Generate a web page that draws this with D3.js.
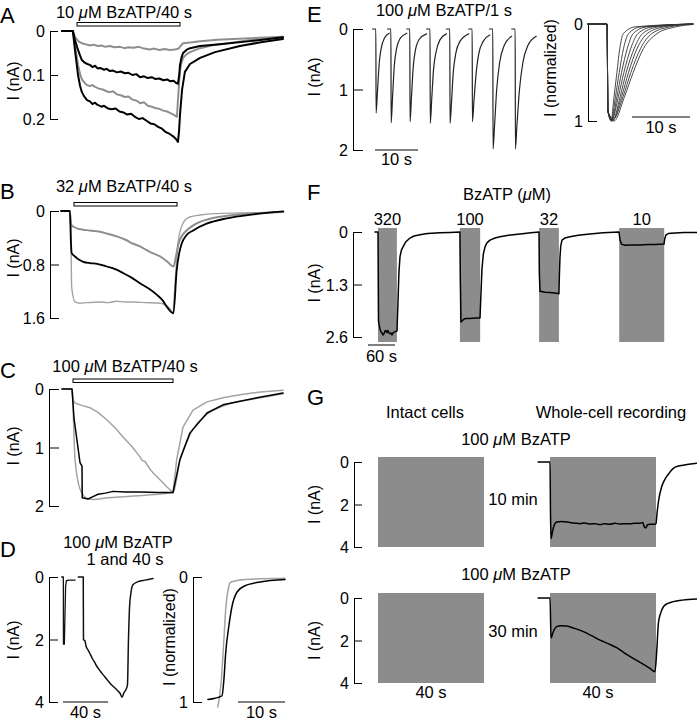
<!DOCTYPE html>
<html>
<head>
<meta charset="utf-8">
<script src="https://cdn.jsdelivr.net/npm/d3@7"></script>
<style>
html,body{margin:0;padding:0;background:#fff;}
svg{display:block;font-family:"Liberation Sans",Arial,sans-serif;}
</style>
</head>
<body>
<svg id="fig" width="697" height="720"></svg>
<script>
// ---------------- DATA ----------------
// Panel A: 10 uM BzATP / 40 s  (time s, current nA)
const aStim = [0, 40];
const aTicks = [0, 0.1, 0.2];
const aTickLabels = ["0", "0.1", "0.2"];
const aGray1 = [[-5.8,0],[-1.6,0],[-0.8,0.014],[0.4,0.022],[1.2,0.026],[2.5,0.029],[3.9,0.031],[5,0.033],[6.5,0.031],[8,0.034],[9.5,0.033],[11,0.036],[12.8,0.034],[14.5,0.037],[16.7,0.036],[18.5,0.039],[20,0.037],[22,0.038],[24,0.036],[26,0.04],[28.3,0.042],[30,0.04],[32,0.043],[34,0.041],[36,0.043],[38,0.042],[39.5,0.04],[40.2,0.034],[41.2,0.028],[44,0.026],[47,0.024],[54.4,0.02],[65,0.017],[80,0.013]];
const aBlack1 = [[-5.8,0],[-1.6,0],[-0.8,0.02],[0.4,0.043],[1.2,0.056],[1.9,0.066],[3,0.072],[4,0.075],[5,0.077],[6,0.082],[7,0.079],[8,0.085],[9,0.084],[10.5,0.088],[11.5,0.086],[12.8,0.091],[14,0.09],[15.5,0.094],[17,0.092],[18.6,0.096],[20,0.095],[21.5,0.1],[23,0.098],[24.5,0.105],[26,0.103],[27.5,0.107],[29,0.105],[30.3,0.109],[32,0.108],[33.5,0.112],[35,0.11],[36.1,0.114],[37.5,0.113],[38.5,0.118],[39.2,0.12],[39.7,0.1],[40,0.077],[40.6,0.06],[41.2,0.05],[42.5,0.043],[43.9,0.039],[47.8,0.034],[55.5,0.03],[67.2,0.023],[80,0.014]];
const aGray2 = [[-5.8,0],[-1.6,0],[-0.8,0.032],[0.4,0.077],[1.2,0.098],[1.9,0.11],[3,0.118],[3.9,0.123],[5,0.125],[6,0.123],[7,0.127],[8.5,0.131],[10,0.133],[11.5,0.137],[12.8,0.139],[14,0.137],[15.5,0.144],[17,0.146],[18.6,0.15],[20,0.149],[21.5,0.156],[23,0.158],[24.5,0.164],[26,0.162],[27.5,0.17],[29,0.172],[30.3,0.175],[32,0.177],[33.5,0.181],[35,0.183],[36.1,0.186],[37.5,0.19],[38.8,0.195],[39.2,0.157],[40,0.089],[40.6,0.072],[41.2,0.061],[42.5,0.053],[43.9,0.048],[47.8,0.039],[53,0.032],[59.4,0.027],[68,0.02],[80,0.014]];
const aBlack2 = [[-5.8,0],[-1.6,0],[-0.8,0.043],[0.4,0.1],[1.2,0.125],[1.9,0.139],[2.7,0.148],[3.9,0.157],[5,0.16],[6,0.166],[7,0.163],[8,0.168],[9.5,0.172],[10.5,0.17],[12,0.176],[13.5,0.178],[15,0.176],[16.5,0.183],[18,0.185],[19.5,0.19],[21,0.188],[22.5,0.195],[24,0.2],[25.5,0.198],[27,0.204],[28.5,0.21],[30,0.212],[31.5,0.218],[33,0.222],[34.5,0.23],[36,0.234],[37.5,0.24],[38.5,0.246],[39.2,0.252],[39.6,0.23],[40,0.19],[40.8,0.134],[41.9,0.093],[43.9,0.075],[47.8,0.061],[53.6,0.048],[63.3,0.034],[72,0.025],[80,0.018]];

// Panel B: 32 uM BzATP / 40 s
const bStim = [0, 40];
const bTicks = [0, 0.8, 1.6];
const bTickLabels = ["0", "0.8", "1.6"];
const bGrayUpper = [[-5,0],[-1.6,0],[-1.2,0.2],[0,0.24],[2,0.27],[3.6,0.28],[6,0.29],[8,0.3],[10.1,0.31],[13,0.34],[16.6,0.38],[20,0.43],[23,0.49],[25.6,0.53],[28,0.58],[30.5,0.63],[33.4,0.68],[36,0.75],[38.6,0.83],[39.5,0.7],[40.5,0.5],[41.8,0.38],[43.5,0.3],[45.7,0.23],[48.5,0.17],[51.5,0.13],[56,0.09],[61.8,0.06],[70,0.035],[81.2,0.015]];
const bBlack = [[-5,0],[-1.6,0],[-1.2,0.46],[-0.9,0.63],[0.4,0.68],[2,0.73],[3.6,0.76],[6.2,0.78],[9,0.79],[12.7,0.83],[16,0.87],[19.2,0.93],[22.5,1.0],[25.6,1.08],[29,1.16],[32.1,1.25],[34.5,1.34],[36,1.43],[38.6,1.53],[39.9,0.88],[40.8,0.64],[41.8,0.49],[43.5,0.37],[46.3,0.29],[51.5,0.19],[59.3,0.11],[69.6,0.05],[81.3,0.005]];
const bGrayLower = [[-5,0],[-1.6,0],[-1.3,0.1],[-0.9,1.14],[0.4,1.36],[2.3,1.38],[5,1.37],[10.1,1.36],[13,1.37],[16.6,1.35],[20,1.36],[23,1.36],[28,1.37],[33.4,1.38],[37.3,1.46],[38.3,1.52],[39.6,0.88],[40.5,0.45],[41.8,0.23],[43.2,0.13],[45,0.09],[49,0.06],[54.1,0.04],[65,0.03],[81.3,0.02]];

// Panel C: 100 uM BzATP / 40 s
const cStim = [0, 40];
const cTicks = [0, 1, 2];
const cTickLabels = ["0", "1", "2"];
const cGrayUpper = [[-4.4,0],[-0.4,0],[0.2,0.2],[0.8,0.24],[3.5,0.28],[6.8,0.32],[10,0.4],[13.6,0.53],[17,0.67],[20,0.82],[23.5,0.98],[26.8,1.16],[27.6,1.22],[28.8,1.24],[31,1.38],[32,1.43],[34.8,1.55],[37.5,1.67],[40,1.77],[41.5,1.2],[44,0.65],[48,0.36],[53.6,0.22],[60,0.15],[66.8,0.1],[75,0.05],[84,0.02]];
const cBlack = [[-4.4,0],[-0.4,0],[0.4,0.5],[2.8,1.26],[3.6,1.32],[3.7,1.86],[6,1.88],[8,1.84],[10,1.8],[13,1.78],[16,1.75],[21,1.76],[26.8,1.76],[34,1.77],[40,1.77],[42.8,1.2],[46.8,0.75],[53.6,0.41],[60,0.27],[73.6,0.15],[84,0.07]];
const cGrayLower = [[-4.4,0],[-0.4,0],[0.8,1.2],[2.8,1.71],[5.6,1.87],[8,1.89],[14,1.86],[20,1.84],[30,1.81],[40,1.77],[42.8,1.22],[46.8,0.78],[53.6,0.43],[60,0.29],[73.6,0.16],[84,0.08]];

// Panel D: 100 uM BzATP, 1 and 40 s
const dTicks = [0, 2, 4];
const dTickLabels = ["0", "2", "4"];
const dSweep1 = [[-1.2,0],[0.3,0],[0.4,2.15],[1.2,2.15],[2.3,0.3],[3,0.12],[5,0.1],[10.7,0.1]];
const dSweep40 = [[13.6,0],[18,0],[18.2,2.0],[19.6,2.05],[20.4,2.2],[22,2.32],[24,2.45],[26,2.6],[28.4,2.75],[30.5,2.88],[32.9,3.0],[35,3.1],[37.3,3.2],[39.5,3.3],[41.8,3.4],[44,3.48],[46.2,3.55],[48.9,3.65],[50.7,3.72],[52.4,3.85],[54.2,3.7],[56,3.6],[57.3,3.45],[58.2,2.0],[59.1,1.0],[60.4,0.5],[62.2,0.25],[66.7,0.15],[72.9,0.1],[80,0.05]];
const dnTicks = [0, 1];
const dnTickLabels = ["0", "1"];
const dnBlack = [[-6.4,0.98],[-4.9,0.97],[-3.4,0.95],[-3,0.82],[-2.6,0.6],[-1.9,0.38],[-1.3,0.24],[-0.2,0.12],[1.5,0.07],[4.7,0.04],[10,0.02]];
const dnGray = [[-4.3,1.04],[-3.6,0.85],[-3.0,0.5],[-2.6,0.25],[-2.1,0.1],[-1.5,0.04],[1.5,0.02],[10,0.01]];

// Panel E: 100 uM BzATP / 1 s, eight sweeps
const eTicks = [0, 1, 2];
const eTickLabels = ["0", "1", "2"];
const eSweeps = [
  [[-0.6,0],[0.2,0],[0.25,1.39],[0.6,1.0],[1.0,0.55],[1.5,0.3],[2.2,0.15],[3.3,0.07]],
  [[2.9,0],[3.7,0],[3.75,1.55],[4.1,1.1],[4.5,0.6],[5.0,0.33],[5.8,0.16],[7.4,0.07]],
  [[7.4,0],[8.1,0],[8.15,1.53],[8.5,1.1],[8.9,0.62],[9.4,0.35],[10.3,0.17],[12.0,0.08]],
  [[12.0,0],[12.8,0],[12.85,1.56],[13.2,1.15],[13.6,0.68],[14.2,0.38],[15.1,0.18],[16.6,0.08]],
  [[16.6,0],[17.4,0],[17.45,1.56],[17.8,1.2],[18.2,0.72],[18.8,0.4],[19.8,0.2],[21.8,0.08]],
  [[21.8,0],[22.6,0],[22.65,1.53],[23.0,1.2],[23.5,0.75],[24.1,0.42],[25.2,0.2],[26.7,0.1]],
  [[26.6,0],[27.4,0],[27.45,1.98],[27.8,1.6],[28.3,1.0],[29.0,0.55],[30.0,0.28],[31.8,0.12]],
  [[31.8,0],[32.6,0],[32.65,1.98],[33.0,1.6],[33.6,1.0],[34.4,0.55],[35.5,0.28],[37.5,0.12]]
];
const enTicks = [0, 1];
const enTickLabels = ["0", "1"];
const enCurves = [
  [[-7.6,0],[-4.3,0],[-4.15,0.9],[-3.6,1.0],[-3.1,0.75],[-2.6,0.5],[-2.1,0.25],[-1.5,0.1],[0.5,0.03],[10.5,0]],
  [[-7.6,0],[-4.3,0],[-4.15,0.9],[-3.55,0.99],[-2.85,0.75],[-2.2,0.5],[-1.45,0.25],[-0.6,0.1],[1.5,0.03],[10.5,0]],
  [[-7.6,0],[-4.3,0],[-4.15,0.9],[-3.5,1.0],[-2.6,0.75],[-1.8,0.5],[-0.8,0.25],[0.2,0.1],[2.5,0.03],[10.5,0]],
  [[-7.6,0],[-4.3,0],[-4.15,0.9],[-3.45,0.98],[-2.35,0.75],[-1.4,0.5],[-0.2,0.25],[1.0,0.1],[3.5,0.03],[10.5,0]],
  [[-7.6,0],[-4.3,0],[-4.15,0.9],[-3.35,1.0],[-2.05,0.75],[-1.0,0.5],[0.4,0.25],[1.8,0.1],[4.5,0.03],[10.5,0]],
  [[-7.6,0],[-4.3,0],[-4.15,0.9],[-3.3,0.99],[-1.8,0.75],[-0.6,0.5],[0.9,0.25],[2.6,0.1],[5.5,0.03],[10.5,0]],
  [[-7.6,0],[-4.3,0],[-4.15,0.9],[-3.2,0.98],[-1.55,0.75],[-0.2,0.5],[1.5,0.25],[3.4,0.1],[6.5,0.03],[10.5,0]],
  [[-7.6,0],[-4.3,0],[-4.15,0.9],[-3.1,1.0],[-1.3,0.75],[0.2,0.5],[2.0,0.25],[4.3,0.1],[7.5,0.03],[10.5,0.005]]
];

// Panel F: BzATP concentration series
const fConcLabels = ["320", "100", "32", "10"];
const fStims = [[0,42],[182,227],[358,402],[536,636]];
const fTicks = [0, 1.3, 2.6];
const fTickLabels = ["0", "1.3", "2.6"];
const fTrace = [[-6.7,0],[0,0],[1.1,2.2],[2.5,2.3],[4.4,2.4],[6.5,2.47],[8.9,2.5],[11,2.55],[13.3,2.52],[15.5,2.45],[17.8,2.44],[20,2.49],[22.2,2.44],[24.5,2.5],[26.7,2.52],[29,2.5],[31.1,2.55],[33.3,2.5],[35.6,2.48],[38,2.47],[40,2.46],[42.2,2.45],[44.4,1.74],[46.5,1.0],[48.9,0.61],[52,0.45],[55.6,0.37],[62,0.24],[71.1,0.15],[80,0.1],[93.3,0.07],[110,0.04],[137.8,0.02],[160,0.01],[182,0],[183,1.2],[184.4,2.23],[186.5,2.2],[188.9,2.18],[192,2.15],[195.6,2.14],[204.4,2.14],[215.6,2.13],[226.7,2.13],[228.9,1.5],[231,0.93],[234,0.55],[237.8,0.37],[242,0.27],[248.9,0.2],[260,0.15],[271,0.12],[290,0.08],[315.6,0.05],[340,0.02],[357.8,0],[358.5,1.0],[360,1.47],[371,1.49],[382,1.5],[393,1.51],[402,1.53],[403,1.1],[404.4,0.62],[406,0.35],[408.9,0.2],[415,0.15],[426.7,0.12],[445,0.08],[471,0.05],[500,0.02],[535.6,0],[537.8,0.2],[541,0.3],[549,0.33],[565,0.32],[582,0.32],[600,0.31],[616,0.31],[635.6,0.3],[637,0.18],[640,0.07],[645,0.04],[651,0.03],[680,0.015],[711,0.01]];

// Panel G: intact cells vs whole-cell recording
const gStim = [0, 40];
const gTicks = [0, 2, 4];
const gTickLabels = ["0", "2", "4"];
const gTrace10 = [[-4.5,0],[0,0],[0.2,2.5],[0.4,3.6],[0.9,3.3],[1.5,3.0],[2.5,2.82],[4.5,2.8],[7.5,2.85],[9.5,2.88],[11.3,2.9],[13,2.87],[15.1,2.92],[17,2.9],[18.9,2.95],[20.5,2.9],[22.6,2.93],[24.5,2.88],[26.4,2.92],[28.5,2.9],[30.2,2.9],[32,2.88],[34,2.88],[35,2.85],[35.6,3.05],[36.2,3.1],[36.8,2.95],[37.7,2.93],[39.6,2.93],[40,2.9],[40.4,2.4],[41,1.8],[42.1,1.18],[43.2,0.85],[44.5,0.6],[47.2,0.24],[50.2,0.15],[55.5,0.06]];
const gTrace30 = [[-4.5,0],[0,0],[0.4,1.88],[1.2,1.6],[2.5,1.35],[4,1.3],[6.3,1.32],[9,1.42],[12.6,1.58],[15.5,1.76],[18.9,1.98],[22,2.15],[25.2,2.34],[28,2.58],[31.4,2.84],[34.5,3.06],[37.7,3.31],[39.6,3.47],[40.3,2.45],[40.9,1.19],[41.8,0.7],[42.8,0.41],[44.5,0.25],[46.5,0.17],[50,0.1],[55.4,0.05]];

// ---------------- DRAWING ----------------
const svg = d3.select("#fig");
const FONT = 16.5;
const TICKFONT = 16;
const GRAY = "#8e8e8e";
const LIGHT = "#a3a3a3";
const RECT = "#8c8c8c";

function line(xs, ys, curve) {
  return d3.line().x(d => xs(d[0])).y(d => ys(d[1])).curve(curve || d3.curveLinear);
}
function trace(data, xs, ys, color, w, curve) {
  svg.append("path").datum(data)
    .attr("d", line(xs, ys, curve))
    .attr("fill", "none").attr("stroke", color)
    .attr("stroke-width", w).attr("stroke-linejoin", "round").attr("stroke-linecap", "round");
}
function axis(x, ys, ticks, labels, tick) {
  const ax = d3.axisLeft(ys).tickValues(ticks)
    .tickFormat((d, i) => labels[i]).tickSize(-tick).tickSizeOuter(-tick).tickPadding(5);
  const g = svg.append("g").attr("transform", `translate(${x},0)`).call(ax);
  g.attr("font-family", null).attr("font-size", null);
  g.selectAll("text").attr("font-size", TICKFONT).attr("fill", "#000").attr("dy", "0.36em");
  g.selectAll("path,line").attr("stroke", "#000").attr("stroke-width", 1);
  return g;
}
function text(x, y, s, opts) {
  opts = opts || {};
  const t = svg.append("text").attr("x", x).attr("y", y)
    .attr("font-size", opts.size || FONT).attr("text-anchor", opts.anchor || "middle").attr("fill", "#000");
  if (opts.rotate) t.attr("transform", `rotate(-90,${x},${y})`);
  const parts = s.split("μ");
  parts.forEach((p, i) => {
    if (i > 0) t.append("tspan").attr("font-style", "italic").text("μ");
    if (p.length) t.append("tspan").text(p);
  });
  return t;
}
function ylabel(x, y, s) { text(x, y, s, { rotate: true, size: 16 }); }
function stimBar(xs, stim, y) {
  svg.append("rect").attr("x", xs(stim[0])).attr("y", y)
    .attr("width", xs(stim[1]) - xs(stim[0])).attr("height", 3.5)
    .attr("fill", "#fff").attr("stroke", "#000").attr("stroke-width", 1);
}
function scaleBar(x0, x1, y, label, ty) {
  svg.append("line").attr("x1", x0).attr("x2", x1).attr("y1", y).attr("y2", y)
    .attr("stroke", "#000").attr("stroke-width", 1);
  text((x0 + x1) / 2, ty, label);
}
function panelLetter(x, y, s) { text(x, y, s, { size: 22, anchor: "start" }); }

// ---- Panel A ----
panelLetter(0, 23, "A");
const aX = d3.scaleLinear().domain([0, 40]).range([77, 180]);
const aY = d3.scaleLinear().domain([0, 0.2]).range([31, 119]);
text(124, 18, "10 μM BzATP/40 s");
stimBar(aX, aStim, 22.5);
axis(50, aY, aTicks, aTickLabels, 8);
ylabel(19, 81, "I (nA)");
trace(aGray1, aX, aY, GRAY, 2);
trace(aGray2, aX, aY, GRAY, 2);
trace(aBlack1, aX, aY, "#000", 2);
trace(aBlack2, aX, aY, "#000", 2);

// ---- Panel B ----
panelLetter(0, 199, "B");
const bX = d3.scaleLinear().domain([0, 40]).range([74, 177]);
const bY = d3.scaleLinear().domain([0, 1.6]).range([211, 318]);
text(124, 192, "32 μM BzATP/40 s");
stimBar(bX, bStim, 202.5);
axis(50, bY, bTicks, bTickLabels, 9);
ylabel(19, 258, "I (nA)");
trace(bGrayLower, bX, bY, LIGHT, 1.4, d3.curveMonotoneX);
trace(bGrayUpper, bX, bY, GRAY, 2, d3.curveMonotoneX);
trace(bBlack, bX, bY, "#000", 1.8, d3.curveMonotoneX);

// ---- Panel C ----
panelLetter(0, 378, "C");
const cX = d3.scaleLinear().domain([0, 40]).range([73, 173]);
const cY = d3.scaleLinear().domain([0, 2]).range([389, 506]);
text(125, 372, "100 μM BzATP/40 s");
stimBar(cX, cStim, 379);
axis(49, cY, cTicks, cTickLabels, 10);
ylabel(19, 446, "I (nA)");
trace(cGrayUpper, cX, cY, LIGHT, 1.5);
trace(cGrayLower, cX, cY, LIGHT, 1.5, d3.curveMonotoneX);
trace(cBlack, cX, cY, "#000", 1.5);

// ---- Panel D ----
panelLetter(0, 557, "D");
text(118, 548, "100 μM BzATP");
text(125, 565, "1 and 40 s");
const dX = d3.scaleLinear().domain([0, 40]).range([63, 108]);
const dY = d3.scaleLinear().domain([0, 4]).range([577, 702]);
axis(49, dY, dTicks, dTickLabels, 9);
ylabel(19, 640, "I (nA)");
trace(dSweep1, dX, dY, "#111", 1.3);
trace(dSweep40, dX, dY, "#111", 1.5, d3.curveMonotoneX);
scaleBar(dX(0), dX(40), 702, "40 s", 718);
const dnX = d3.scaleLinear().domain([0, 10]).range([238, 285]);
const dnY = d3.scaleLinear().domain([0, 1]).range([577, 702]);
axis(193, dnY, dnTicks, dnTickLabels, 9);
ylabel(175, 637, "I (normalized)");
trace(dnGray, dnX, dnY, LIGHT, 1.5, d3.curveMonotoneX);
trace(dnBlack, dnX, dnY, "#000", 1.5, d3.curveMonotoneX);
scaleBar(dnX(0), dnX(10), 702, "10 s", 718);

// ---- Panel E ----
panelLetter(307, 22, "E");
text(444, 16, "100 μM BzATP/1 s");
const eX = d3.scaleLinear().domain([0, 10]).range([375, 418]);
const eY = d3.scaleLinear().domain([0, 2]).range([29, 150]);
axis(353, eY, eTicks, eTickLabels, 10);
ylabel(320, 77, "I (nA)");
eSweeps.forEach(s => trace(s, eX, eY, "#222", 1.2, d3.curveMonotoneX));
scaleBar(eX(0), eX(10), 150, "10 s", 165);
const enX = d3.scaleLinear().domain([0, 10]).range([632, 690]);
const enY = d3.scaleLinear().domain([0, 1]).range([24, 121]);
axis(588, enY, enTicks, enTickLabels, 9);
ylabel(556, 68, "I (normalized)");
enCurves.forEach(c => trace(c, enX, enY, "#333", 0.9, d3.curveMonotoneX));
scaleBar(enX(0), enX(10), 117, "10 s", 133);

// ---- Panel F ----
panelLetter(307, 200, "F");
text(507, 200, "BzATP (μM)");
const fX = d3.scaleLinear().domain([0, 60]).range([378, 405]);
const fY = d3.scaleLinear().domain([0, 2.6]).range([232, 337]);
fStims.forEach((s, i) => {
  svg.append("rect").attr("x", fX(s[0])).attr("width", fX(s[1]) - fX(s[0]))
    .attr("y", 228).attr("height", 114).attr("fill", RECT);
  text((fX(s[0]) + fX(s[1])) / 2, 225, fConcLabels[i]);
});
axis(353, fY, fTicks, fTickLabels, 9);
ylabel(320, 283, "I (nA)");
trace(fTrace, fX, fY, "#000", 1.5);
scaleBar(368, 368 + fX(60) - fX(0), 345, "60 s", 362);

// ---- Panel G ----
panelLetter(307, 405, "G");
text(425, 418, "Intact cells");
text(611, 418, "Whole-cell recording");
const gXi = d3.scaleLinear().domain([0, 40]).range([378, 484]);
const gXw = d3.scaleLinear().domain([0, 40]).range([550, 656]);
const gY1 = d3.scaleLinear().domain([0, 4]).range([462, 547]);
const gY2 = d3.scaleLinear().domain([0, 4]).range([598, 683]);
[[gY1, 445, "10 min", 505, gTrace10], [gY2, 580, "30 min", 637, gTrace30]].forEach(r => {
  const ys = r[0];
  text(516, r[1], "100 μM BzATP");
  [gXi, gXw].forEach(xs => {
    svg.append("rect").attr("x", xs(gStim[0])).attr("width", xs(gStim[1]) - xs(gStim[0]))
      .attr("y", ys(0) - 5).attr("height", ys(4) - ys(0) + 5).attr("fill", RECT);
  });
  axis(354, ys, gTicks, gTickLabels, 8);
  ylabel(320, (ys(0) + ys(4)) / 2, "I (nA)");
  text(513, r[3], r[2]);
  trace(r[4], gXw, ys, "#000", 1.5, d3.curveMonotoneX);
});
text(gXi(20), 698, "40 s");
text(gXw(20) - 5, 698, "40 s");
</script>
</body>
</html>
